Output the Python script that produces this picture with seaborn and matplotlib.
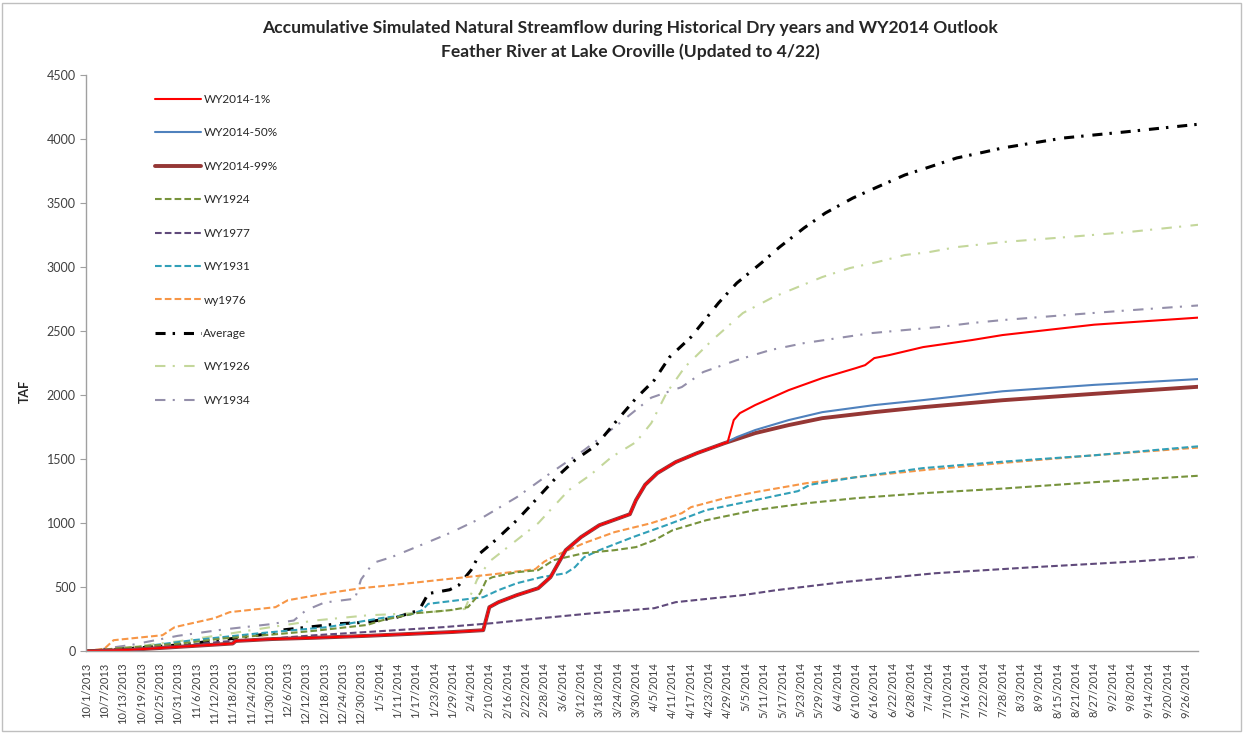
import pandas as pd
import seaborn as sns
import matplotlib.pyplot as plt
import matplotlib.dates as mdates
from matplotlib.patches import Rectangle

start = pd.Timestamp("2013-10-01")

# days after 10/1/2013, accumulated streamflow in TAF
wy2014_days = [0, 14, 31, 48, 49, 61, 75, 92, 106, 120, 130, 132, 135, 141, 148,
               152, 157, 162, 168, 178, 180, 183, 187, 193, 200, 209]
wy2014_vals = [0, 10, 35, 60, 80, 95, 105, 120, 135, 150, 164, 344, 383, 438, 492,
               578, 789, 891, 984, 1070, 1180, 1300, 1391, 1477, 1547, 1625]

p01_days = [210, 212, 214, 219, 230, 241, 252, 255, 258, 263, 274, 290, 300, 330, 364]
p01_vals = [1633, 1805, 1859, 1922, 2039, 2133, 2211, 2234, 2289, 2313, 2375, 2430, 2469, 2550, 2605]

p50_days = [213, 219, 230, 241, 258, 274, 300, 330, 364]
p50_vals = [1672, 1727, 1805, 1867, 1922, 1961, 2030, 2080, 2125]

p99_days = [219, 230, 241, 258, 274, 300, 330, 364]
p99_vals = [1703, 1766, 1820, 1867, 1906, 1960, 2010, 2065]

wy1924_days = [0, 14, 31, 45, 61, 75, 92, 97, 108, 119, 125, 129, 131, 133, 141, 148,
               153, 163, 173, 180, 186, 192, 203, 219, 236, 252, 274, 300, 330, 364]
wy1924_vals = [0, 30, 60, 100, 130, 160, 205, 242, 297, 320, 344, 453, 555, 578, 617, 633,
               711, 766, 789, 813, 867, 945, 1023, 1102, 1156, 1195, 1234, 1270, 1320, 1370]

wy1977_days = [0, 14, 31, 45, 61, 75, 92, 117, 133, 149, 166, 186, 193, 215, 226, 248,
               278, 310, 343, 364]
wy1977_vals = [0, 15, 45, 75, 100, 125, 150, 188, 219, 258, 297, 336, 383, 438, 477, 540,
               609, 656, 700, 737]

wy1931_days = [0, 14, 35, 57, 79, 97, 106, 110, 112, 119, 130, 135, 141, 149, 157, 160,
               163, 168, 179, 190, 203, 219, 233, 237, 252, 274, 300, 330, 364]
wy1931_vals = [0, 23, 86, 141, 188, 260, 285, 320, 370, 390, 422, 477, 531, 578, 609, 656,
               734, 789, 891, 985, 1102, 1180, 1250, 1300, 1359, 1430, 1480, 1530, 1600]

wy1976_days = [0, 6, 9, 25, 29, 42, 47, 62, 66, 79, 90, 100, 117, 133, 147, 150, 154,
               163, 173, 185, 195, 198, 209, 219, 236, 252, 274, 300, 330, 364]
wy1976_vals = [0, 20, 86, 125, 188, 258, 305, 344, 398, 453, 492, 516, 560, 600, 640, 700, 750,
               844, 930, 1000, 1078, 1125, 1195, 1242, 1313, 1359, 1414, 1470, 1530, 1590]

avg_days = [0, 14, 31, 45, 61, 64, 83, 91, 101, 109, 112, 119, 122, 126, 129, 134, 141,
            145, 154, 160, 167, 173, 180, 186, 191, 198, 207, 213, 221, 227, 235, 242,
            251, 259, 268, 276, 285, 294, 300, 320, 340, 364]
avg_vals = [0, 20, 50, 90, 140, 165, 215, 225, 260, 320, 450, 480, 516, 633, 766, 867, 1023,
            1125, 1359, 1492, 1609, 1781, 1975, 2117, 2297, 2453, 2719, 2875, 3031, 3156, 3305, 3422,
            3539, 3625, 3719, 3781, 3852, 3898, 3930, 4008, 4055, 4115]

wy1926_days = [0, 14, 31, 45, 61, 75, 92, 110, 124, 128, 132, 140, 148, 158, 165, 172,
               180, 185, 190, 196, 205, 215, 225, 233, 241, 250, 259, 268, 276, 285, 300,
               321, 341, 364]
wy1926_vals = [0, 30, 80, 130, 190, 240, 280, 300, 330, 560, 700, 850, 1000, 1258, 1375, 1516,
               1633, 1781, 2016, 2219, 2430, 2641, 2766, 2844, 2922, 2992, 3039, 3094, 3117, 3156, 3195,
               3234, 3273, 3330]

wy1934_days = [0, 15, 30, 45, 60, 68, 72, 78, 88, 90, 94, 100, 108, 119, 130, 141, 152,
               163, 173, 185, 195, 202, 213, 224, 235, 246, 257, 268, 279, 290, 300, 318,
               340, 364]
wy1934_vals = [0, 50, 120, 170, 210, 240, 320, 380, 410, 560, 690, 735, 813, 922, 1047, 1203, 1391,
               1570, 1750, 1980, 2063, 2180, 2273, 2352, 2406, 2445, 2484, 2508, 2531, 2563, 2586, 2620,
               2660, 2700]

dash = (0, (3.2, 1.5))
dashdot = (0, (5, 3.5, 1, 4.5))
series = [
    ("WY2014-1%", wy2014_days + p01_days, wy2014_vals + p01_vals, "#FF0000", 1.5, "-"),
    ("WY2014-50%", wy2014_days + p50_days, wy2014_vals + p50_vals, "#4F81BD", 1.5, "-"),
    ("WY2014-99%", wy2014_days + p99_days, wy2014_vals + p99_vals, "#953735", 2.8, "-"),
    ("WY1924", wy1924_days, wy1924_vals, "#77933C", 1.5, dash),
    ("WY1977", wy1977_days, wy1977_vals, "#604A7B", 1.5, dash),
    ("WY1931", wy1931_days, wy1931_vals, "#31A0B8", 1.5, dash),
    ("wy1976", wy1976_days, wy1976_vals, "#F79646", 1.5, dash),
    ("Average", avg_days, avg_vals, "#000000", 2.2, (0, (3.3, 2.3, 0.8, 2.9))),
    ("WY1926", wy1926_days, wy1926_vals, "#C4D79B", 1.5, dashdot),
    ("WY1934", wy1934_days, wy1934_vals, "#948FAA", 1.5, dashdot),
]

sns.set_style("white")
plt.rcParams["font.family"] = ["Lato", "DejaVu Sans"]

fig = plt.figure(figsize=(12.48, 7.35), dpi=100)
ax = fig.add_axes([0.069, 0.114, 0.891, 0.784])

# draw in reverse so WY2014 lines sit on top
for name, days, vals, color, lw, ls in reversed(series):
    dates = start + pd.to_timedelta(days, unit="D")
    sns.lineplot(x=dates, y=vals, ax=ax, color=color, linewidth=lw,
                 linestyle=ls, label=name, errorbar=None)

ax.set_xlim(start, pd.Timestamp("2014-09-30"))
ax.set_ylim(0, 4500)
ax.set_yticks(range(0, 4501, 500))

ticks = pd.date_range("2013-10-01", "2014-09-30", freq="6D")
ax.set_xticks(ticks)
ax.set_xticklabels([f"{d.month}/{d.day}/{d.year}" for d in ticks], rotation=90,
                   fontsize=8, color="#404040")
ax.xaxis.set_minor_locator(mdates.DayLocator())
ax.tick_params(axis="x", which="both", direction="out", length=4, color="#A0A0A0", width=0.6)
ax.tick_params(axis="y", direction="out", length=4, color="#A0A0A0", labelsize=9,
               labelcolor="#404040", left=True)
ax.tick_params(axis="x", which="major", pad=4)

for side in ["top", "right"]:
    ax.spines[side].set_visible(False)
for side in ["left", "bottom"]:
    ax.spines[side].set_color("#A0A0A0")
    ax.spines[side].set_linewidth(1)

ax.set_xlabel("")
ax.set_ylabel("TAF", fontsize=9, fontweight="bold")
ax.yaxis.set_label_coords(-0.05, 0.45)

handles, labels = ax.get_legend_handles_labels()
order = [labels.index(s[0]) for s in series]
ax.legend([handles[i] for i in order], [labels[i] for i in order], loc="upper left",
          bbox_to_anchor=(0.062, 0.967), frameon=False, fontsize=8.5, handlelength=3.9,
          handletextpad=0.2, labelspacing=1.9, borderpad=0, borderaxespad=0)

fig.text(0.505, 0.962, "Accumulative Simulated Natural Streamflow during Historical Dry years and WY2014 Outlook",
         ha="center", va="center", fontsize=12.6, fontweight="bold")
fig.text(0.505, 0.929, "Feather River at Lake Oroville (Updated to 4/22)",
         ha="center", va="center", fontsize=12.6, fontweight="bold")

fig.patches.append(Rectangle((0.002, 0.006), 0.992, 0.99, transform=fig.transFigure,
                             fill=False, edgecolor="#BFBFBF", linewidth=1))

fig.savefig("out.png", dpi=100)
